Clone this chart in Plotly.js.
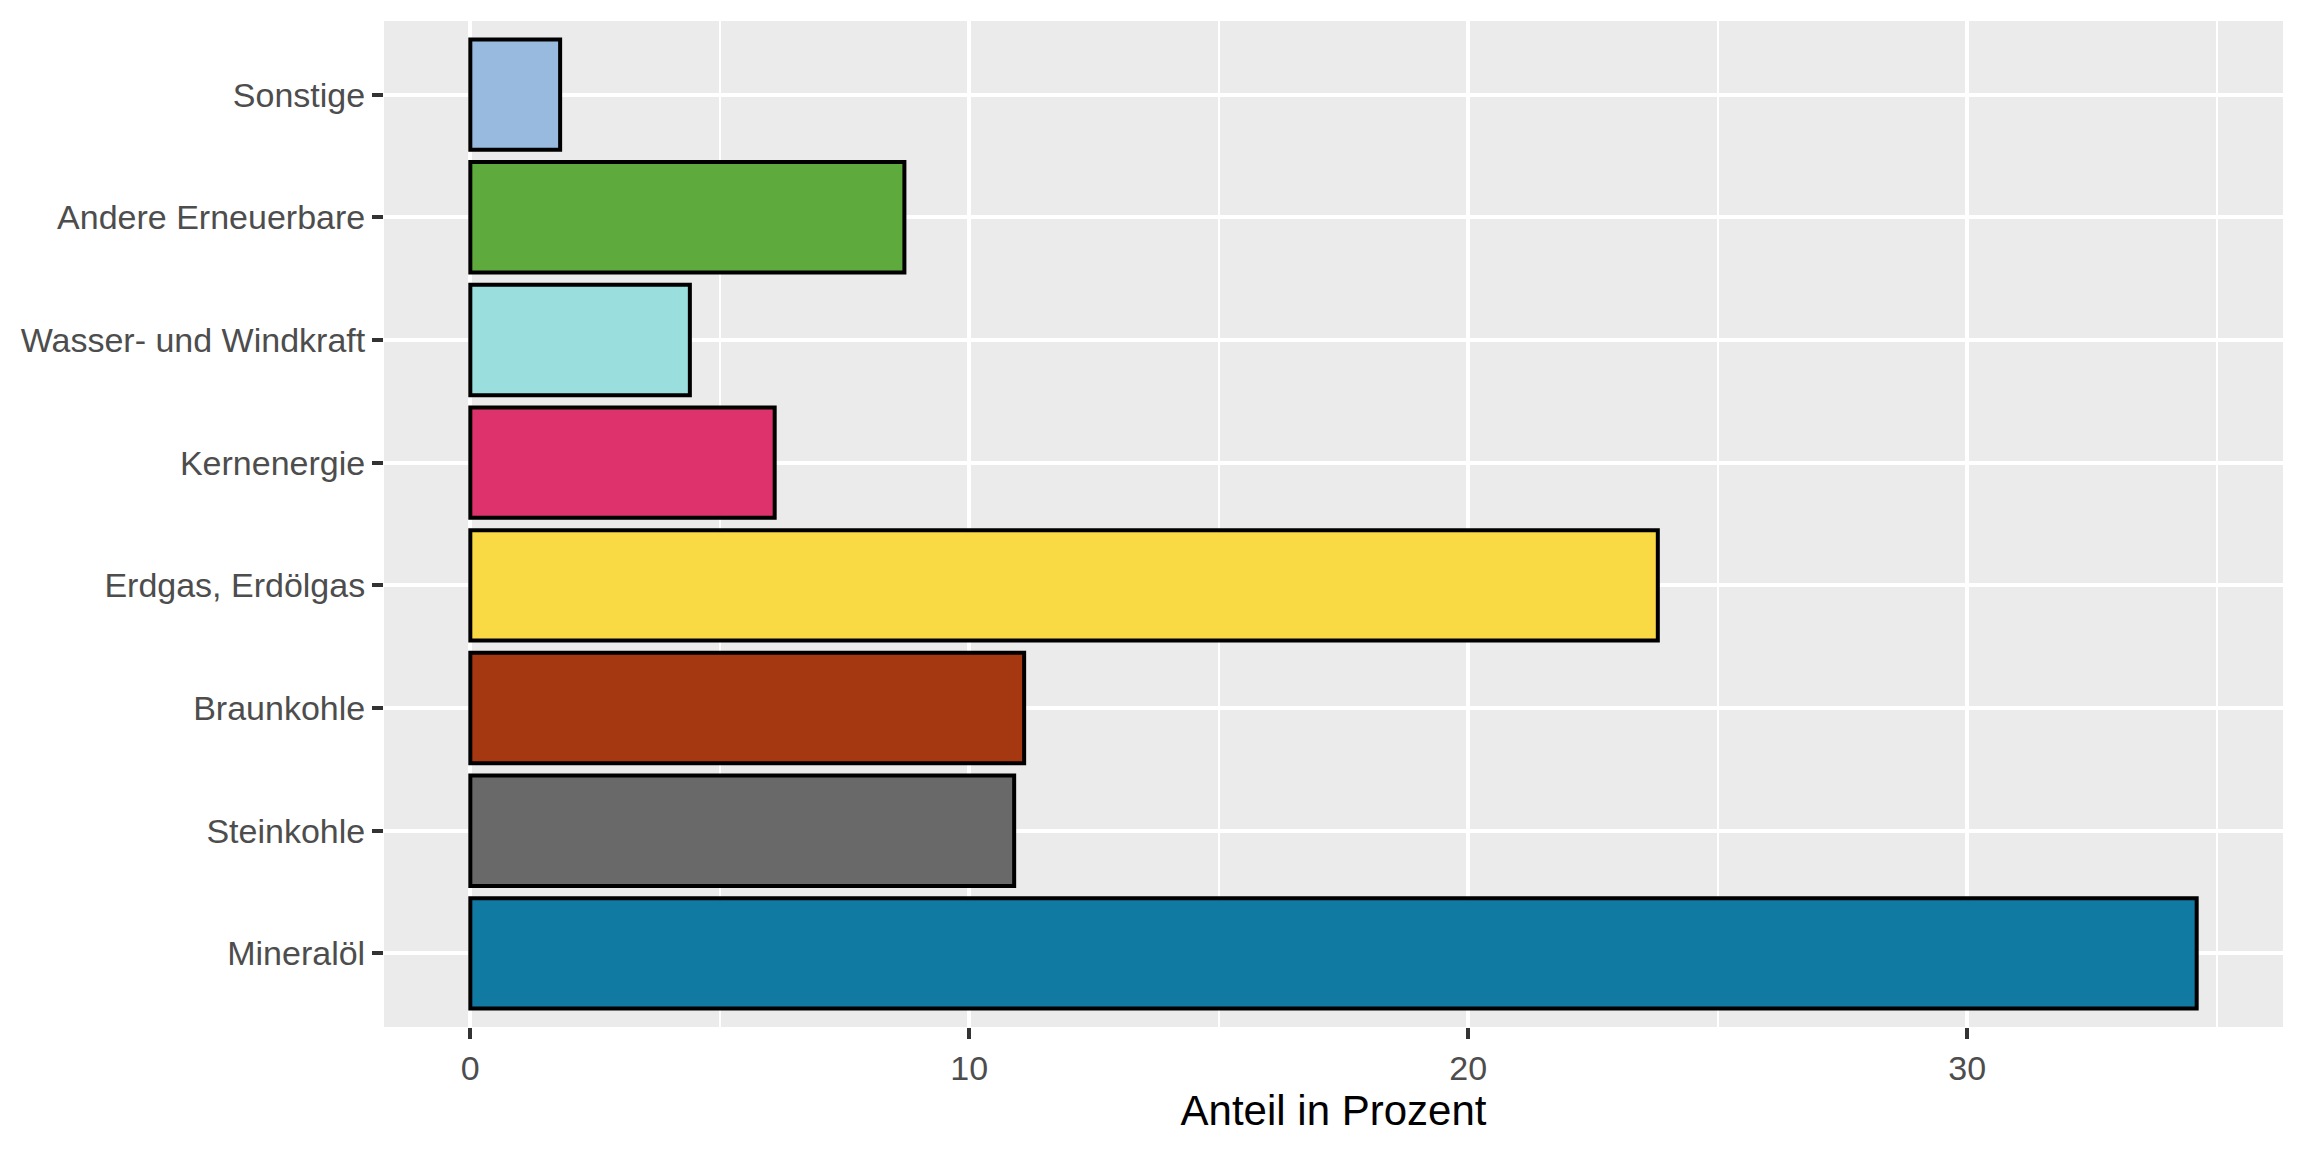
<!DOCTYPE html>
<html>
<head>
<meta charset="utf-8">
<script src="https://cdn.plot.ly/plotly-3.0.1.min.js"></script>
<style>html,body{margin:0;padding:0;background:#fff;}#chart{width:2304px;height:1152px;}</style>
</head>
<body>
<div id="chart"></div>
<script>
// Data (bottom to top)
const categories = ["Mineralöl", "Steinkohle", "Braunkohle", "Erdgas, Erdölgas", "Kernenergie", "Wasser- und Windkraft", "Andere Erneuerbare", "Sonstige"];
const shares = [34.6, 10.9, 11.1, 23.8, 6.1, 4.4, 8.7, 1.8];
const barColors = ["#117AA2", "#696969", "#A63811", "#FADA44", "#DE326D", "#9ADEDD", "#5EAA3C", "#99BADF"];
const xTickValues = [0, 10, 20, 30];
const xTickLabels = ["0", "10", "20", "30"];
const xMinorValues = [5, 15, 25, 35];
const xTitle = "Anteil in Prozent";

const font = "Liberation Sans, Arial, sans-serif";

const trace = {
  type: "bar",
  orientation: "h",
  x: shares,
  y: categories,
  width: 0.9,
  marker: { color: barColors, line: { color: "#000000", width: 4 } },
  hoverinfo: "x+y"
};

const layout = {
  width: 2304,
  height: 1152,
  margin: { l: 384, r: 21, t: 21, b: 125, pad: 0 },
  paper_bgcolor: "#FFFFFF",
  plot_bgcolor: "#EBEBEB",
  showlegend: false,
  font: { family: font },
  xaxis: {
    range: [-1.73, 36.33],
    tickmode: "array",
    tickvals: xTickValues,
    ticktext: xTickLabels,
    showgrid: true,
    gridcolor: "#FFFFFF",
    gridwidth: 4,
    zeroline: false,
    showline: false,
    ticks: "outside",
    ticklen: 11,
    tickwidth: 4,
    tickcolor: "#333333",
    tickfont: { family: font, size: 34, color: "#4D4D4D" },
    minor: { tickmode: "array", tickvals: xMinorValues, showgrid: true, gridcolor: "#FFFFFF", gridwidth: 2, ticks: "" },
    title: { text: xTitle, font: { family: font, size: 42, color: "#000000" }, standoff: 8 },
    fixedrange: true
  },
  yaxis: {
    type: "category",
    categoryorder: "array",
    categoryarray: categories,
    range: [-0.6, 7.6],
    showgrid: true,
    gridcolor: "#FFFFFF",
    gridwidth: 4,
    zeroline: false,
    showline: false,
    ticks: "outside",
    ticklen: 11,
    tickwidth: 4,
    tickcolor: "#333333",
    tickfont: { family: font, size: 34, color: "#4D4D4D" },
    fixedrange: true
  }
};

Plotly.newPlot("chart", [trace], layout, { displayModeBar: false, staticPlot: true });
</script>
</body>
</html>
